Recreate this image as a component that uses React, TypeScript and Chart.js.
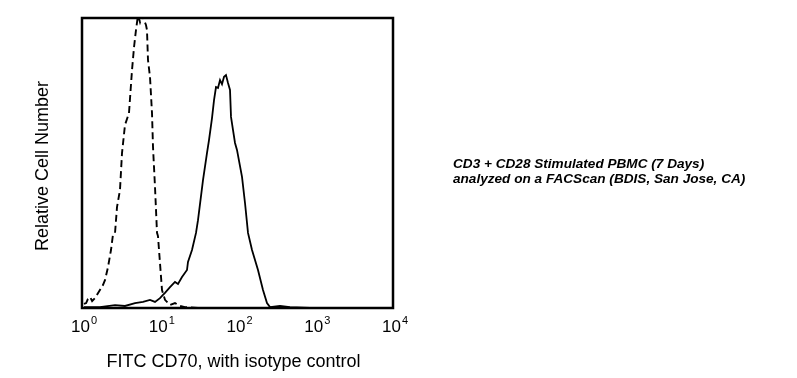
import React, { useEffect, useRef } from "react";
import { Chart, registerables } from "chart.js";

Chart.register(...registerables);

// Isotype control (dashed) — fluorescence intensity vs relative count (%)
const isoX = [1.06, 1.13, 1.19, 1.27, 1.35, 1.47, 1.7, 1.86, 1.98, 2.16, 2.36, 2.5, 2.66, 2.82, 3.08, 3.27, 3.57, 4.02, 4.4, 4.67, 4.95, 5.25, 5.57, 5.91, 6.27, 6.65, 6.85, 7.06, 7.49, 7.72, 7.95, 8.19, 8.69, 9.22, 9.49, 10.07, 10.69, 11.68, 13.55, 15.71, 18.21, 21.1, 33, 108, 634, 10000];
const isoY = [1.4, 1.7, 3.1, 3.8, 2.4, 3.4, 6.2, 7.9, 9.7, 14.1, 20.0, 25.2, 25.9, 34.8, 40.7, 53.4, 63.1, 67.2, 82.1, 90.0, 95.9, 101, 98.6, 101, 99.3, 97.6, 95.9, 85.5, 79.7, 73.4, 67.2, 55.5, 41.7, 25.9, 24.8, 15.5, 6.2, 2.8, 1.0, 1.7, 0.7, 0.3, 0, 0, 0, 0];

// FITC CD70 (solid)
const cd70X = [1.06, 1.7, 2.66, 3.57, 4.81, 6.09, 7.49, 8.69, 10.07, 11.01, 11.68, 13.55, 15.71, 17.17, 19.33, 22.41, 23.08, 25.99, 29.26, 31.04, 36.0, 40.5, 43.0, 47.0, 49.9, 52.9, 56.1, 59.6, 63.2, 67.1, 71.1, 75.5, 80.1, 82.5, 87.5, 92.9, 98.5, 114.3, 124.9, 136.5, 153.7, 183.5, 212.8, 239.5, 261.8, 352, 473, 856, 10000];
const cd70Y = [0.3, 0.3, 1.0, 0.7, 1.7, 2.1, 2.8, 2.1, 3.4, 4.5, 5.2, 7.2, 9.0, 8.3, 10.7, 13.1, 15.9, 20.0, 25.9, 30.3, 44.1, 53.4, 57.9, 65.5, 71.7, 76.2, 75.9, 78.6, 77.2, 79.7, 80.3, 77.6, 75.2, 65.9, 61.4, 56.9, 54.5, 45.2, 36.2, 25.9, 20.0, 13.1, 6.2, 1.7, 0.3, 0.7, 0.3, 0, 0];

const tickExponents = [0, 1, 2, 3, 4];
const xTitle = "FITC CD70, with isotype control";
const yTitle = "Relative Cell Number";
const noteLines = [
  "CD3 + CD28 Stimulated PBMC (7 Days)",
  "analyzed on a FACScan (BDIS, San Jose, CA)",
];

const FONT = '"Liberation Sans", Arial, sans-serif';

const decorPlugin = {
  id: "decor",
  afterDraw(chart: any) {
    const { ctx, chartArea } = chart;
    const xs = chart.scales.x;
    ctx.save();
    // frame
    ctx.strokeStyle = "#000";
    ctx.lineWidth = 2.5;
    ctx.strokeRect(chartArea.left, chartArea.top, chartArea.right - chartArea.left, chartArea.bottom - chartArea.top);
    // tick labels 10^n
    ctx.fillStyle = "#000";
    ctx.textBaseline = "alphabetic";
    ctx.textAlign = "left";
    const baseY = chartArea.bottom + 24;
    tickExponents.forEach((e) => {
      const px = xs.getPixelForValue(Math.pow(10, e));
      ctx.font = `17px ${FONT}`;
      const bw = ctx.measureText("10").width;
      ctx.font = `11px ${FONT}`;
      const sw = ctx.measureText(String(e)).width;
      const start = px - (bw + 1 + sw) / 2 + 2;
      ctx.font = `17px ${FONT}`;
      ctx.fillText("10", start, baseY);
      ctx.font = `11px ${FONT}`;
      ctx.fillText(String(e), start + bw + 1, baseY - 8);
    });
    // x title
    ctx.font = `18px ${FONT}`;
    ctx.textAlign = "center";
    ctx.fillText(xTitle, (chartArea.left + chartArea.right) / 2 - 4, chartArea.bottom + 59);
    // y title
    ctx.save();
    ctx.translate(48, (chartArea.top + chartArea.bottom) / 2 + 3);
    ctx.rotate(-Math.PI / 2);
    ctx.textAlign = "center";
    ctx.fillText(yTitle, 0, 0);
    ctx.restore();
    // annotation
    ctx.font = `italic bold 13.6px ${FONT}`;
    ctx.textAlign = "left";
    ctx.fillText(noteLines[0], 453, 168);
    ctx.fillText(noteLines[1], 453, 183);
    ctx.restore();
  },
};

export default function App() {
  const ref = useRef<HTMLCanvasElement>(null);
  useEffect(() => {
    if (!ref.current) return;
    const chart = new Chart(ref.current, {
      type: "line",
      data: {
        datasets: [
          {
            label: "Isotype control",
            data: isoX.map((x, i) => ({ x, y: isoY[i] })),
            borderColor: "#000",
            borderWidth: 1.9,
            borderDash: [7, 4],
            pointRadius: 0,
            tension: 0,
            fill: false,
          },
          {
            label: "FITC CD70",
            data: cd70X.map((x, i) => ({ x, y: cd70Y[i] })),
            borderColor: "#000",
            borderWidth: 1.8,
            pointRadius: 0,
            tension: 0,
            fill: false,
          },
        ],
      },
      options: {
        animation: false,
        responsive: false,
        layout: { padding: { left: 82, right: 404, top: 18, bottom: 70 } },
        plugins: { legend: { display: false }, tooltip: { enabled: false } },
        scales: {
          x: { type: "logarithmic", min: 1, max: 10000, display: false },
          y: { type: "linear", min: 0, max: 100, display: false },
        },
      },
      plugins: [decorPlugin],
    });
    return () => chart.destroy();
  }, []);
  return (
    <div style={{ position: "fixed", left: 0, top: 0, width: 797, height: 378, background: "#fff" }}>
      <canvas ref={ref} width={797} height={378} style={{ width: 797, height: 378, display: "block" }} />
    </div>
  );
}
